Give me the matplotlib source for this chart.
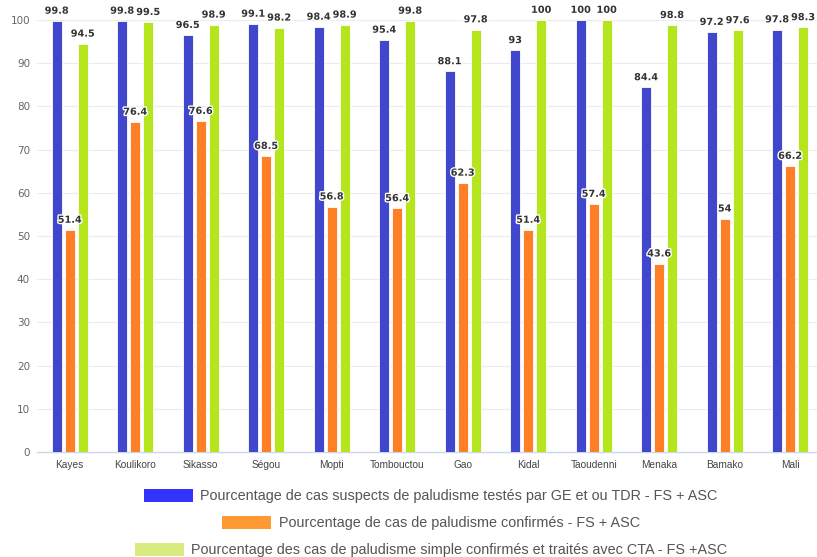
import matplotlib
matplotlib.use("Agg")
import matplotlib.pyplot as plt
import matplotlib.patheffects as pe
import numpy as np

regions = ["Kayes", "Koulikoro", "Sikasso", "Ségou", "Mopti", "Tombouctou",
           "Gao", "Kidal", "Taoudenni", "Menaka", "Bamako", "Mali"]
testes = [99.8, 99.8, 96.5, 99.1, 98.4, 95.4, 88.1, 93, 100, 84.4, 97.2, 97.8]
confirmes = [51.4, 76.4, 76.6, 68.5, 56.8, 56.4, 62.3, 51.4, 57.4, 43.6, 54, 66.2]
traites_cta = [94.5, 99.5, 98.9, 98.2, 98.9, 99.8, 97.8, 100, 100, 98.8, 97.6, 98.3]

series_labels = [
    "Pourcentage de cas suspects de paludisme testés par GE et ou TDR - FS + ASC",
    "Pourcentage de cas de paludisme confirmés - FS + ASC",
    "Pourcentage des cas de paludisme simple confirmés et traités avec CTA - FS +ASC",
]
bar_colors = ["#4147cc", "#ff7f27", "#b5e61d"]
swatch_colors = ["#3333ff", "#ff9933", "#d9ec80"]

plain = ["Liberation Sans", "DejaVu Sans"]

fig = plt.figure(figsize=(8.17, 5.57), dpi=100)
ax = fig.add_axes([37 / 817, 105 / 557, 780 / 817, 432 / 557])

x = np.arange(len(regions))
step = 13 / 65.5
width = 10 / 65.5
outline = [pe.withStroke(linewidth=2, foreground="white")]
for i, (vals, col) in enumerate(zip([testes, confirmes, traites_cta], bar_colors)):
    bars = ax.bar(x + (i - 1) * step, vals, width, color=col,
                  edgecolor="white", linewidth=0.6, zorder=3)
    for b, v in zip(bars, vals):
        ax.text(b.get_x() + b.get_width() / 2, v + 1.2, f"{v:g}",
                ha="center", va="bottom", fontsize=7, fontweight="bold",
                color="#333333", path_effects=outline, zorder=4, clip_on=False)

ax.set_xlim(-0.5, 11.41)
ax.set_ylim(0, 100)
ax.set_yticks(range(0, 101, 10))
ax.set_xticks(x)
ax.set_xticklabels(regions, fontsize=7.3, color="#444444", family=plain)
ax.tick_params(axis="y", length=0, labelsize=7.5, labelcolor="#666666", pad=5)
ax.tick_params(axis="x", length=0, pad=6)
ax.grid(axis="y", color="#ececec", linewidth=0.8, zorder=0)
for side in ["top", "right", "left"]:
    ax.spines[side].set_visible(False)
ax.spines["bottom"].set_color("#ccd6eb")
ax.spines["bottom"].set_linewidth(1)

# one centred legend row per series
rows_y = [496, 523, 550]
for lab, col, yy in zip(series_labels, swatch_colors, rows_y):
    h = plt.Rectangle((0, 0), 1, 1, facecolor=col, edgecolor="none")
    fig.legend([h], [lab], loc="center", bbox_to_anchor=(431 / 817, 1 - yy / 557),
               frameon=False, handlelength=3.4, handleheight=1.0,
               handletextpad=0.5, borderpad=0,
               prop={"family": plain, "size": 10.4}, labelcolor="#555555")

fig.savefig("out.png", dpi=100)
